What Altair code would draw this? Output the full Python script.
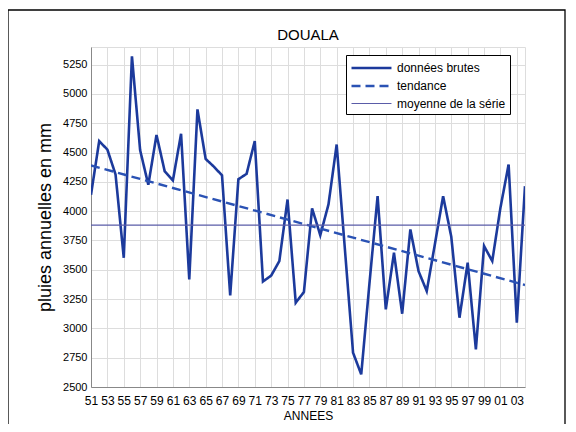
import altair as alt
import pandas as pd

# ---- data ----
years = list(range(1951, 2005))
pluies = [4140, 4597, 4525, 4312, 3602, 5321, 4520, 4225, 4650, 4340,
          4262, 4660, 3418, 4868, 4445, 4380, 4305, 3282, 4272, 4318,
          4598, 3400, 3450, 3574, 4099, 3219, 3310, 4023, 3795, 4057,
          4568, 3680, 2793, 2608, 3380, 4128, 3162, 3645, 3125, 3844,
          3488, 3318, 3720, 4128, 3780, 3091, 3560, 2821, 3702, 3574,
          4029, 4398, 3048, 4213]
trend_years = [1951, 2004]
trend_values = [4390, 3370]
mean_years = [1951, 2004]
mean_values = [3880, 3880]

series_names = ["données brutes", "tendance", "moyenne de la série"]
series_colors = ["#1c3a9c", "#2a52b4", "#5a5ca8"]
x_tick_years = list(range(1951, 2004, 2))
y_ticks = list(range(2500, 5251, 250))
chart_title = "DOUALA"

rows = []
for a, v in zip(years, pluies):
    rows.append({"annee": a, "pluie": v, "serie": series_names[0]})
for a, v in zip(trend_years, trend_values):
    rows.append({"annee": a, "pluie": v, "serie": series_names[1]})
for a, v in zip(mean_years, mean_values):
    rows.append({"annee": a, "pluie": v, "serie": series_names[2]})
df = pd.DataFrame(rows)

FONT = "Liberation Sans"

legend = alt.Legend(
    orient="none", legendX=255, legendY=8, title=None,
    symbolType="M-1,0H4.33", symbolSize=225,
    labelFontSize=12, labelFont=FONT, labelColor="black", labelOffset=29,
    strokeColor="black", fillColor="white", padding=4, rowPadding=3,
)

lines = alt.Chart(df).mark_line(clip=True).encode(
    x=alt.X("annee:Q",
            scale=alt.Scale(domain=[1951, 2004], nice=False, zero=False),
            axis=alt.Axis(values=x_tick_years,
                          labelExpr="slice(toString(datum.value), 2)",
                          title="ANNEES", titleFontSize=12, titleFontWeight="normal",
                          titleFont=FONT, titleColor="black", titlePadding=4,
                          labelFontSize=12, labelFont=FONT, labelColor="black",
                          labelPadding=8, labelOverlap=False, labelFlush=False,
                          ticks=False)),
    y=alt.Y("pluie:Q",
            scale=alt.Scale(domain=[2500, 5400], nice=False, zero=False),
            axis=alt.Axis(values=y_ticks, format="d",
                          title="pluies annuelles en mm", titleFontSize=18,
                          titleFontWeight="normal", titleFont=FONT, titleColor="black",
                          titlePadding=8,
                          labelFontSize=11, labelFont=FONT, labelColor="black",
                          labelPadding=4, labelOverlap=False, labelFlush=False,
                          ticks=False)),
    color=alt.Color("serie:N", scale=alt.Scale(domain=series_names, range=series_colors),
                    legend=legend),
    strokeDash=alt.StrokeDash("serie:N",
                              scale=alt.Scale(domain=series_names,
                                              range=[[1, 0], [9, 5], [1, 0]]),
                              legend=legend),
    strokeWidth=alt.StrokeWidth("serie:N",
                                scale=alt.Scale(type="ordinal", domain=series_names,
                                                range=[2.6, 2.4, 1.2]),
                                legend=legend),
    order="annee:Q",
)

frame = alt.Chart(pd.DataFrame({"k": [0]})).mark_rect(
    fillOpacity=0, stroke="black", strokeWidth=1.3
).encode(
    x=alt.value(-83), x2=alt.value(474), y=alt.value(-37), y2=alt.value(460)
)

title_text = alt.Chart(pd.DataFrame({"t": [chart_title]})).mark_text(
    fontSize=15, font=FONT, color="black", baseline="middle", align="center"
).encode(
    text="t:N", x=alt.value(217), y=alt.value(-12)
)

chart = alt.layer(lines, frame, title_text).properties(
    width=434, height=340,
    autosize=alt.AutoSizeParams(type="none"),
    padding={"left": 83, "top": 39, "right": 43, "bottom": 37},
).configure_view(
    stroke="black", strokeWidth=1
).configure_axis(
    domainColor="black", gridColor="#333333", gridDash=[1.5, 3], gridOpacity=1,
    gridWidth=1
).configure(background="white")

chart.save("out.html", embed_options={"renderer": "svg", "actions": False})
